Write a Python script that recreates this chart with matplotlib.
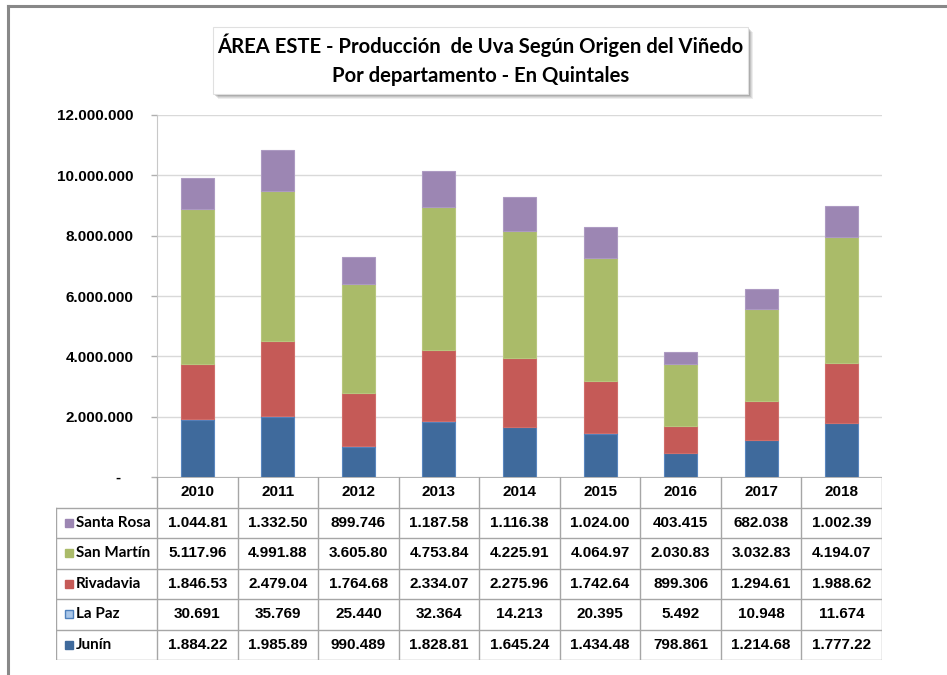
import matplotlib
matplotlib.use("Agg")
import matplotlib.pyplot as plt
from matplotlib.patches import Rectangle
from matplotlib.lines import Line2D

# Data (quintales)
years = ['2010', '2011', '2012', '2013', '2014', '2015', '2016', '2017', '2018']
junin = [1884220, 1985890, 990489, 1828810, 1645240, 1434480, 798861, 1214680, 1777220]
la_paz = [30691, 35769, 25440, 32364, 14213, 20395, 5492, 10948, 11674]
rivadavia = [1846530, 2479040, 1764680, 2334070, 2275960, 1742640, 899306, 1294610, 1988620]
san_martin = [5117960, 4991880, 3605800, 4753840, 4225910, 4064970, 2030830, 3032830, 4194070]
santa_rosa = [1044810, 1332500, 899746, 1187580, 1116380, 1024000, 403415, 682038, 1002390]

series = [
    ('Junín', junin, '#3F6A9C', '#5A86BE'),
    ('La Paz', la_paz, '#A9C6E8', '#4F81BD'),
    ('Rivadavia', rivadavia, '#C55A57', '#D06E6B'),
    ('San Martín', san_martin, '#AABB69', '#B8C77E'),
    ('Santa Rosa', santa_rosa, '#9C86B3', '#AD9AC2'),
]
yticks = [0, 2000000, 4000000, 6000000, 8000000, 10000000, 12000000]

plt.rcParams['font.family'] = ['Liberation Sans', 'DejaVu Sans']
title_font = ['Lato', 'DejaVu Sans']

W, H = 947, 675
fig = plt.figure(figsize=(W / 100, H / 100), dpi=100)

def fmt(v):
    # Excel shows the number truncated in a narrow cell
    return f"{v:,}".replace(",", ".")[:8]

# outer frame (only top and left visible in the crop)
fig.add_artist(Line2D([8 / W, 1], [1 - 6 / H, 1 - 6 / H], color='#888888', lw=2.2))
fig.add_artist(Line2D([8 / W, 8 / W], [0, 1 - 6 / H], color='#888888', lw=2.2))

# plot area
x0, x1, ytop, ybot = 157, 882, 115, 477
ax = fig.add_axes([x0 / W, 1 - ybot / H, (x1 - x0) / W, (ybot - ytop) / H])
pos = list(range(len(years)))
bottom = [0] * len(years)
for name, vals, fc, ec in series:
    ax.bar(pos, vals, width=0.41, bottom=bottom, color=fc, edgecolor=ec, linewidth=0.8, zorder=3)
    bottom = [b + v for b, v in zip(bottom, vals)]

ax.set_xlim(-0.5, len(years) - 0.5)
ax.set_ylim(0, 12000000)
ax.set_yticks(yticks)
ax.set_yticklabels(['-   '] + [f"{t:,}".replace(",", ".") for t in yticks[1:]],
                   fontsize=11, fontweight='bold')
ax.set_xticks([])
ax.tick_params(axis='y', length=4.5, width=1, color='#b0b0b0', pad=12.5)
ax.grid(axis='y', color='#d9d9d9', linewidth=1, zorder=0)
for s in ['top', 'right', 'bottom']:
    ax.spines[s].set_visible(False)
ax.spines['left'].set_color('#c8c8c8')

# data table under the axis
cw = (x1 - x0) / len(years)
xl = -0.5 - (x0 - 56) / cw
tax = fig.add_axes([56 / W, 1 - 660 / H, (x1 - 56) / W, (660 - ybot) / H])
tax.set_xlim(xl, len(years) - 0.5)
tax.set_ylim(6, 0)
tax.axis('off')
gc = '#a6a6a6'
tax.plot([-0.5, len(years) - 0.5], [0, 0], color=gc, lw=1.2)
for r in range(1, 7):
    tax.plot([xl, len(years) - 0.5], [r, r], color=gc, lw=1)
tax.plot([xl, xl], [1, 6], color=gc, lw=1)
for k in range(len(years) + 1):
    tax.plot([k - 0.5, k - 0.5], [0, 6], color=gc, lw=1)

for i, y in enumerate(years):
    tax.text(i, 0.5, y, ha='center', va='center', fontsize=11, fontweight='bold')

for r, (name, vals, fc, ec) in enumerate(series[::-1]):
    yy = r + 1.5
    tax.plot([xl + 13.5 / cw], [yy], marker='s', markersize=5.5, markerfacecolor=fc,
             markeredgecolor=ec if name == 'La Paz' else fc, markeredgewidth=1)
    tax.text(xl + 20 / cw, yy, name, ha='left', va='center', fontsize=11, fontweight='bold',
             family=title_font)
    for i, v in enumerate(vals):
        tax.text(i, yy, fmt(v), ha='center', va='center', fontsize=11, fontweight='bold')

# title box with shadow
bx0, bx1, by0, by1 = 213, 748, 27, 94
for k, a in enumerate([0.10, 0.12, 0.16, 0.22]):
    off = 5 - k
    fig.add_artist(Rectangle(((bx0 + off) / W, 1 - (by1 + off) / H), (bx1 - bx0) / W, (by1 - by0) / H,
                             facecolor='#555555', edgecolor='none', alpha=a))
fig.add_artist(Rectangle((bx0 / W, 1 - by1 / H), (bx1 - bx0) / W, (by1 - by0) / H,
                         facecolor='white', edgecolor='#e0e0e0', lw=0.8))
fig.text((bx0 + bx1) / 2 / W, 1 - 45 / H, 'ÁREA ESTE - Producción  de Uva Según Origen del Viñedo',
         ha='center', va='center', fontsize=14.6, fontweight='bold', family=title_font)
fig.text((bx0 + bx1) / 2 / W, 1 - 76 / H, 'Por departamento - En Quintales',
         ha='center', va='center', fontsize=14.6, fontweight='bold', family=title_font)

fig.savefig('out.png', dpi=100, facecolor='white')
